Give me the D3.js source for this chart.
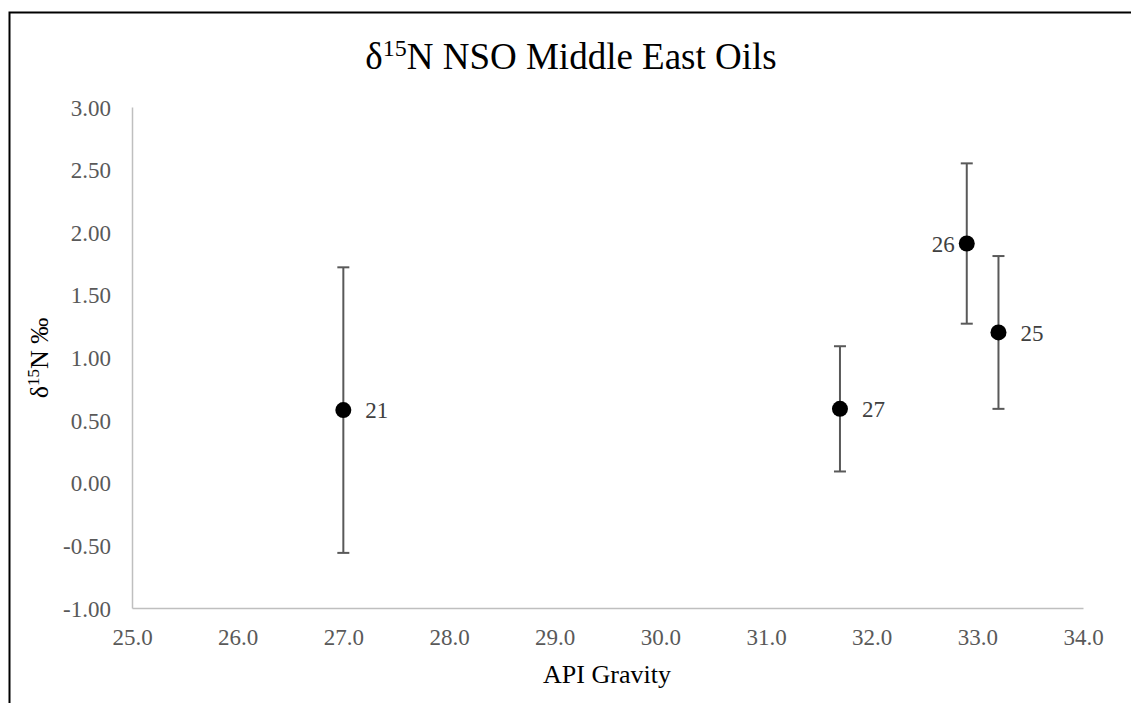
<!DOCTYPE html>
<html><head><meta charset="utf-8">
<script src="https://cdn.jsdelivr.net/npm/d3@7"></script>
<style>body{margin:0;background:#fff}svg{display:block}</style>
</head><body>
<svg id="c" width="1131" height="703"></svg>
<script>
const labels = ["21", "27", "26", "25"];
const apiGravity = [27.0, 31.7, 32.9, 33.2];
const d15N = [0.58, 0.59, 1.91, 1.20];
const errorBar = [1.14, 0.50, 0.64, 0.61];
const labelSide = ["right", "right", "left", "right"];
const xTicks = [25, 26, 27, 28, 29, 30, 31, 32, 33, 34];
const yTicks = [-1, -0.5, 0, 0.5, 1, 1.5, 2, 2.5, 3];

const svg = d3.select("#c");
const font = "'Liberation Serif','Times New Roman',serif";
const x = d3.scaleLinear().domain([25, 34]).range([132, 1083]);
const y = d3.scaleLinear().domain([-1, 3]).range([608, 107]);
const hyphen = f => v => f(v).replace("\u2212", "-");

svg.append("rect").attr("x", 9.5).attr("y", 12.5).attr("width", 1200).attr("height", 800)
  .attr("fill", "none").attr("stroke", "#000").attr("stroke-width", 2);

// title
const t = svg.append("text").attr("x", 571).attr("y", 69).attr("text-anchor", "middle")
  .attr("font-family", font).attr("font-size", 37).attr("fill", "#000");
t.append("tspan").text("δ");
t.append("tspan").attr("font-size", 24).attr("dy", -13).text("15");
t.append("tspan").attr("dy", 13).text("N NSO Middle East Oils");

// axes
const xAxis = svg.append("g").attr("transform", "translate(0,608)")
  .call(d3.axisBottom(x).tickValues(xTicks).tickSize(0).tickPadding(21).tickFormat(hyphen(d3.format(".1f"))));
const yAxis = svg.append("g").attr("transform", "translate(132,0)")
  .call(d3.axisLeft(y).tickValues(yTicks).tickSize(0).tickPadding(21).tickFormat(hyphen(d3.format(".2f"))));
[xAxis, yAxis].forEach(a => {
  a.select(".domain").attr("stroke", "#bfbfbf").attr("stroke-width", 1.5);
  a.selectAll("text").attr("font-family", font).attr("font-size", 23).attr("fill", "#595959");
});
xAxis.selectAll("text").attr("dy", "0.71em");
yAxis.selectAll("text").attr("dy", "0.35em");

// axis titles
svg.append("text").attr("x", 607).attr("y", 683).attr("text-anchor", "middle")
  .attr("font-family", font).attr("font-size", 26).attr("fill", "#000").text("API Gravity");
const yt = svg.append("text").attr("transform", "translate(48,358) rotate(-90)").attr("text-anchor", "middle")
  .attr("font-family", font).attr("font-size", 26).attr("fill", "#000");
yt.append("tspan").text("δ");
yt.append("tspan").attr("font-size", 17).attr("dy", -9).text("15");
yt.append("tspan").attr("dy", 9).text("N ‰");

// error bars
const idx = d3.range(labels.length);
const eb = svg.append("g").attr("stroke", "#595959").attr("stroke-width", 2);
idx.forEach(i => {
  const cx = x(apiGravity[i]);
  const top = y(d15N[i] + errorBar[i]), bot = y(d15N[i] - errorBar[i]);
  eb.append("line").attr("x1", cx).attr("x2", cx).attr("y1", top).attr("y2", bot);
  eb.append("line").attr("x1", cx - 6).attr("x2", cx + 6).attr("y1", top).attr("y2", top);
  eb.append("line").attr("x1", cx - 6).attr("x2", cx + 6).attr("y1", bot).attr("y2", bot);
});

// points
svg.append("g").selectAll("circle").data(idx).join("circle")
  .attr("cx", i => x(apiGravity[i])).attr("cy", i => y(d15N[i])).attr("r", 8).attr("fill", "#000");

// labels
svg.append("g").selectAll("text").data(idx).join("text")
  .attr("x", i => x(apiGravity[i]) + (labelSide[i] === "right" ? 22 : -12))
  .attr("y", i => y(d15N[i])).attr("dy", "0.35em")
  .attr("text-anchor", i => labelSide[i] === "right" ? "start" : "end")
  .attr("font-family", font).attr("font-size", 23).attr("fill", "#404040")
  .text(i => labels[i]);
</script>
</body></html>
